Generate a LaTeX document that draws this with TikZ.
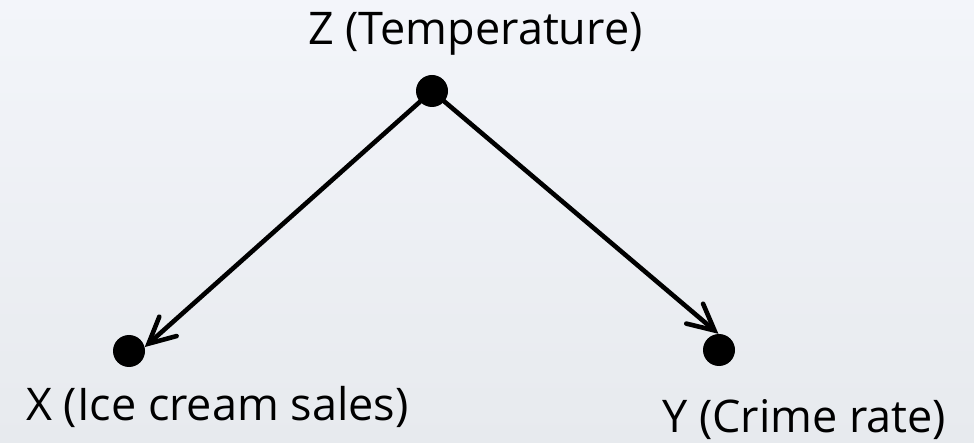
\documentclass[tikz,border=0pt]{standalone}
\usepackage{fontspec}
\setmainfont{Open Sans}
\usetikzlibrary{arrows.meta}
\definecolor{bgtop}{HTML}{F3F5FA}
\definecolor{bgbot}{HTML}{E7EAEE}
\tikzset{
  dot/.style={circle, fill=black, inner sep=0pt, minimum size=32pt},
  lbl/.style={anchor=base west, inner sep=0pt, font=\fontsize{45}{54}\selectfont},
  edge/.style={line width=4.6pt, line cap=round, -{Straight Barb[length=26pt,width=26pt,line width=4.6pt,line cap=round]}}
}
\begin{document}
\begin{tikzpicture}[x=1pt,y=-1pt]
\shade[top color=bgtop, bottom color=bgbot] (0,0) rectangle (974,443);
\useasboundingbox (0,0) rectangle (974,443);
\node[dot] (z) at (432,91) {};
\node[dot] (x) at (129,351) {};
\node[dot] (y) at (719,350) {};
\node[lbl] (zl) at (308,45) {Z (Temperature)};
\node[lbl] (xl) at (26,420) {X (Ice cream sales)};
\node[lbl] (yl) at (662,432) {Y (Crime rate)};
\draw[edge] (z.center) -- (x.14);
\draw[edge] (z.center) -- (y.92);
\end{tikzpicture}
\end{document}
